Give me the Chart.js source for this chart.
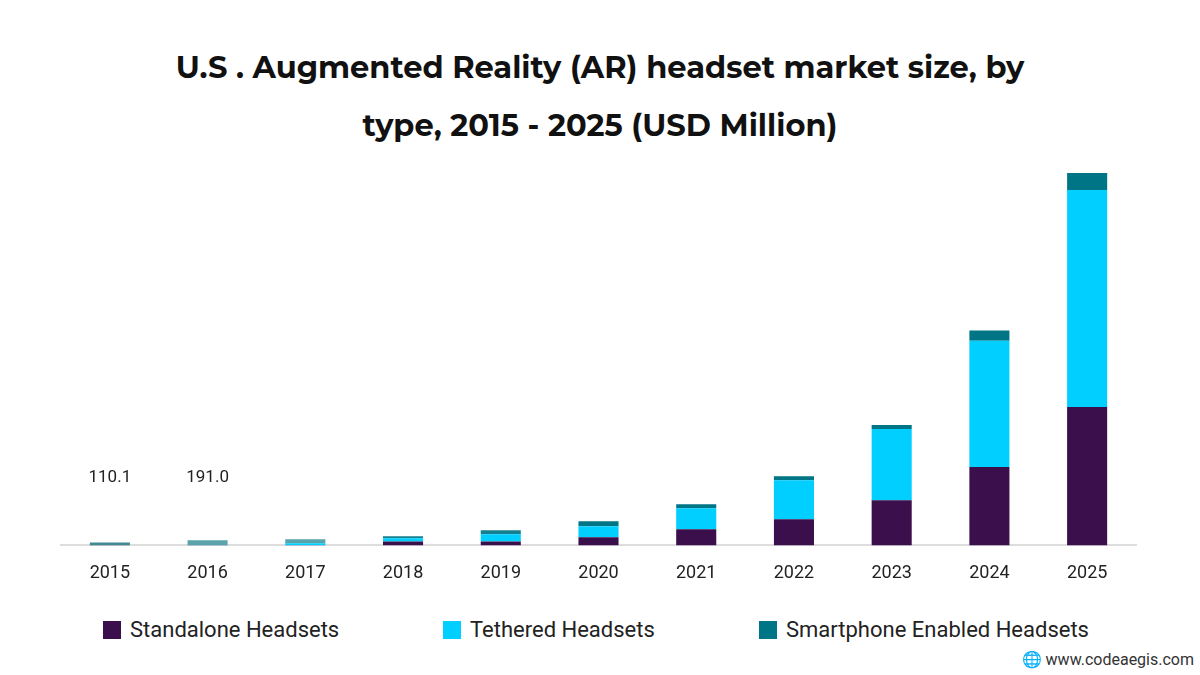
<!DOCTYPE html>
<html><head><meta charset="utf-8">
<script src="https://cdn.jsdelivr.net/npm/chart.js@4"></script>
<style>
body{margin:0;width:1200px;height:675px;background:#fff;font-family:Roboto,sans-serif;position:relative;overflow:hidden}
#title{position:absolute;top:38px;left:0;width:1200px;text-align:center;font:700 30.5px Montserrat,"Open Sans",sans-serif;line-height:58px;color:#111}
#wrap{position:absolute;top:153px;left:0;width:1200px;height:448px}
.leg{position:absolute;top:617px;font-size:22px;color:#222;display:flex;align-items:center}
.leg span{display:inline-block;width:18px;height:18px;margin-right:9px}
#wm{position:absolute;right:6px;top:650px;font-size:16px;color:#333}
</style></head><body>
<div id="title">U.S . Augmented Reality (AR) headset market size, by<br>type, 2015 - 2025 (USD Million)</div>
<div id="wrap"><canvas id="c"></canvas></div>
<div class="leg" style="left:103px"><span style="background:#3b0f4c"></span>Standalone Headsets</div>
<div class="leg" style="left:443px"><span style="background:#00cfff"></span>Tethered Headsets</div>
<div class="leg" style="left:759px"><span style="background:#007585"></span>Smartphone Enabled Headsets</div>
<div id="wm">&#127760; www.codeaegis.com</div>
<script>
const years=["2015","2016","2017","2018","2019","2020","2021","2022","2023","2024","2025"];
const standalone=[5,5,5,148,148,296,592,962,1665,2886,5106];
const tethered=[5,10,74,111,259,407,777,1443,2627,4662,7992];
const smartphone=[100,176,148,74,148,185,148,148,148,370,629];
const topLabels=["110.1","191.0"];
const lbl={id:'lbl',afterDatasetsDraw(ch){const x=ch.scales.x,c=ch.ctx;c.save();c.font='17px Roboto';c.fillStyle='#222';c.textAlign='center';
topLabels.forEach((t,i)=>c.fillText(t,x.getPixelForValue(i),ch.chartArea.bottom-63));c.restore();}};
new Chart(document.getElementById('c'),{type:'bar',
data:{labels:years,datasets:[
{label:'Standalone Headsets',data:standalone,backgroundColor:'#3b0f4c'},
{label:'Tethered Headsets',data:tethered,backgroundColor:'#00cfff'},
{label:'Smartphone Enabled Headsets',data:smartphone,backgroundColor:['#3f8a93','#5aa3ab','#5aa3ab','#137f8f','#137f8f','#007585','#007585','#007585','#007585','#007585','#007585']}]},
options:{responsive:true,maintainAspectRatio:false,animation:false,
layout:{padding:{left:61,right:64,top:20}},
plugins:{legend:{display:false},tooltip:{enabled:false}},
datasets:{bar:{barPercentage:0.41,categoryPercentage:1}},
scales:{x:{stacked:true,grid:{display:false,drawTicks:false},border:{color:'#ddd',width:2},ticks:{padding:17,color:'#222',font:{size:18,family:'Roboto'}}},
y:{stacked:true,display:false,min:0,max:13727}}},plugins:[lbl]});
</script></body></html>
